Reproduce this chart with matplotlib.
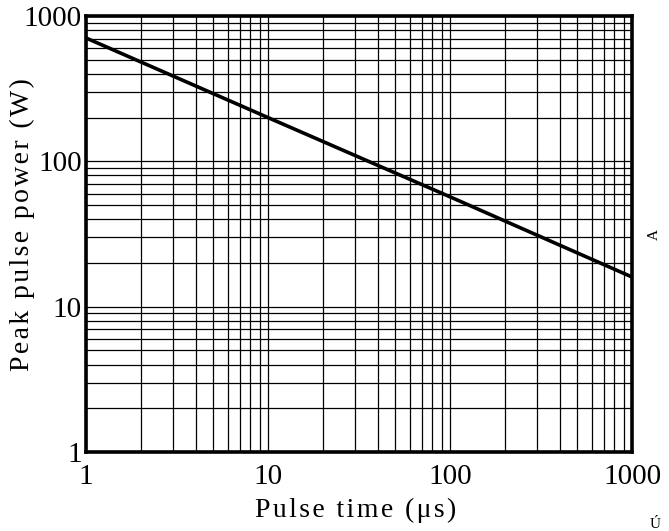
import matplotlib.pyplot as plt
from matplotlib.ticker import FixedLocator, LogLocator, NullFormatter

# values
pulse_time = [1, 10, 100, 1000]
peak_power = [706, 200, 57, 16]

x_ticks = [1, 10, 100, 1000]
x_tick_labels = ["1", "10", "100", "1000"]
y_ticks = [1, 10, 100, 1000]
y_tick_labels = ["1", "10", "100", "1000"]

x_label = "Pulse time (\u03bcs)"
y_label = "Peak pulse power (W)"


def spread(s):
    # the original spaces its letters out a little
    return "\u200a".join(s)


plt.rcParams["font.family"] = ["Liberation Serif", "DejaVu Serif"]

fig = plt.figure(figsize=(6.69, 5.31), dpi=100)
ax = fig.add_axes([86 / 669, 1 - 452 / 531, (632 - 86) / 669, (452 - 16) / 531])

ax.plot(pulse_time, peak_power, color="black", linewidth=2.6, solid_capstyle="butt")

ax.set_xscale("log")
ax.set_yscale("log")
ax.set_xlim(1, 1000)
ax.set_ylim(1, 1000)

ax.xaxis.set_major_locator(FixedLocator(x_ticks))
ax.yaxis.set_major_locator(FixedLocator(y_ticks))
ax.set_xticklabels(x_tick_labels)
ax.set_yticklabels(y_tick_labels)
ax.xaxis.set_minor_locator(LogLocator(base=10, subs=range(2, 10)))
ax.yaxis.set_minor_locator(LogLocator(base=10, subs=range(2, 10)))
ax.xaxis.set_minor_formatter(NullFormatter())
ax.yaxis.set_minor_formatter(NullFormatter())

ax.grid(True, which="both", color="black", linewidth=0.9)
ax.tick_params(which="both", length=0, labelsize=21)
ax.tick_params(axis="x", pad=9)
ax.tick_params(axis="y", pad=3)

for spine in ax.spines.values():
    spine.set_linewidth(2.6)
    spine.set_color("black")

# axis titles placed where the original has them (the y one overlaps the tick labels)
fig.text(356 / 669, 1 - 510 / 531, spread(x_label), fontsize=20, ha="center", va="center")
fig.text(22 / 669, 1 - 225 / 531, spread(y_label), fontsize=20, rotation=90,
         ha="center", va="center")

# stray characters at the right edge of the original
fig.text(654 / 669, 1 - 235 / 531, "A", fontsize=11, rotation=90, ha="center", va="center")
fig.text(655 / 669, 1 - 524 / 531, "\u00da", fontsize=11, ha="center", va="center")

fig.savefig("out.png", dpi=100)
